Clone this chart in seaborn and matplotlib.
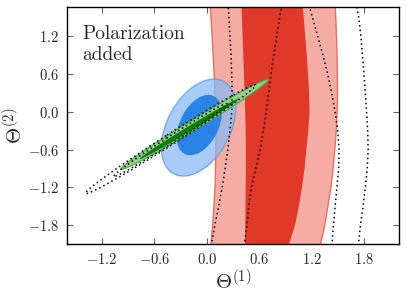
import numpy as np
import matplotlib
matplotlib.use("Agg")
import matplotlib.pyplot as plt
from matplotlib.patches import Ellipse
import seaborn as sns

# ---------------- data ----------------
band_y      = [-2.2, -1.8, -1.5, -1.2, -0.9, -0.6, -0.3, 0.0, 0.3, 0.6, 0.9, 1.2, 1.5, 1.8]
light_left  = [0.035, 0.060, 0.075, 0.088, 0.094, 0.097, 0.096, 0.093, 0.087, 0.078, 0.067, 0.055, 0.042, 0.025]
light_right = [1.28, 1.345, 1.38, 1.415, 1.44, 1.46, 1.477, 1.487, 1.492, 1.49, 1.486, 1.48, 1.472, 1.46]
dark_left   = [0.435, 0.44, 0.443, 0.445, 0.446, 0.447, 0.445, 0.44, 0.433, 0.425, 0.418, 0.41, 0.402, 0.395]
dark_right  = [0.92, 1.01, 1.055, 1.09, 1.12, 1.14, 1.162, 1.177, 1.172, 1.16, 1.145, 1.127, 1.11, 1.09]

# dotted (no polarization) contours for the band
dot_left_outer  = [0.04, 0.092, 0.135, 0.176, 0.21, 0.24, 0.265, 0.285, 0.29, 0.285, 0.277, 0.265, 0.253, 0.24]
dot_left_inner  = [0.42, 0.46, 0.48, 0.51, 0.56, 0.61, 0.648, 0.68, 0.708, 0.735, 0.767, 0.80, 0.835, 0.87]
dot_right_inner = [1.43, 1.45, 1.47, 1.49, 1.51, 1.515, 1.50, 1.47, 1.43, 1.385, 1.33, 1.27, 1.21, 1.15]
dot_right_outer = [1.73, 1.76, 1.79, 1.815, 1.838, 1.848, 1.843, 1.83, 1.815, 1.80, 1.783, 1.765, 1.74, 1.70]

# ellipses: centre x, centre y, half extent x, half extent y, correlation
blue_outer  = (-0.094, -0.25, 0.427, 0.77, 0.41)
blue_inner  = (-0.086, -0.21, 0.258, 0.48, 0.40)
green_outer = (-0.14, -0.20, 0.845, 0.715, 0.9915)
green_inner = (-0.20, -0.27, 0.57, 0.48, 0.995)
dotted_outer = (-0.415, -0.435, 0.975, 0.865, 0.993)
dotted_inner = (-0.42, -0.45, 0.65, 0.58, 0.993)

x_ticks = [-1.2, -0.6, 0.0, 0.6, 1.2, 1.8]
y_ticks = [-1.8, -1.2, -0.6, 0.0, 0.6, 1.2]
x_lim = (-1.6, 2.2)
y_lim = (-2.1, 1.66)
note = "Polarization\nadded"

# ---------------- styling ----------------
sns.set_style("ticks")
plt.rcParams["font.family"] = ["serif"]
plt.rcParams["font.serif"] = ["cmr10", "DejaVu Serif"]
plt.rcParams["mathtext.fontset"] = "cm"
plt.rcParams["axes.formatter.use_mathtext"] = True
plt.rcParams["axes.unicode_minus"] = True


def make_ellipse(p, **kw):
    cx, cy, hx, hy, rho = p
    cov = np.array([[hx * hx, rho * hx * hy], [rho * hx * hy, hy * hy]])
    vals, vecs = np.linalg.eigh(cov)
    order = vals.argsort()[::-1]
    vals, vecs = vals[order], vecs[:, order]
    ang = np.degrees(np.arctan2(vecs[1, 0], vecs[0, 0]))
    return Ellipse((cx, cy), 2 * np.sqrt(vals[0]), 2 * np.sqrt(vals[1]),
                   angle=ang, **kw)


fig, ax = plt.subplots(figsize=(4.07, 2.98), dpi=100)
fig.subplots_adjust(left=0.165, right=0.980, bottom=0.181, top=0.9755)

# red band
ax.fill_betweenx(band_y, light_left, light_right, facecolor="#f4aca4",
                 edgecolor="#e8705f", linewidth=1.0, zorder=1)
ax.fill_betweenx(band_y, dark_left, dark_right, facecolor="#e0392a",
                 edgecolor="none", zorder=2)

# blue ellipses
ax.add_patch(make_ellipse(blue_outer, facecolor="#8bbcf2", edgecolor="#5a9be6",
                          linewidth=1.0, alpha=0.75, zorder=3))
ax.add_patch(make_ellipse(blue_inner, facecolor="#2a84e6", edgecolor="none",
                          zorder=4))

# green ellipses
ax.add_patch(make_ellipse(green_outer, facecolor="#93d08c", edgecolor="#4aa84a",
                          linewidth=0.8, zorder=5))
ax.add_patch(make_ellipse(green_inner, facecolor="#0a7d0a", edgecolor="none",
                          zorder=6))

# dotted ellipses
for p in (dotted_outer, dotted_inner):
    ax.add_patch(make_ellipse(p, fill=False, edgecolor="black",
                              linestyle=(0, (1, 2)), linewidth=1.1, zorder=7))

# dotted band curves
for xs in (dot_left_outer, dot_left_inner, dot_right_inner, dot_right_outer):
    sns.lineplot(x=xs, y=band_y, sort=False, estimator=None, orient="y",
                 color="black", linestyle=(0, (1, 2)), linewidth=1.1,
                 ax=ax, zorder=8)

ax.set_xlim(*x_lim)
ax.set_ylim(*y_lim)
ax.set_xticks(x_ticks)
ax.set_yticks(y_ticks)
ax.tick_params(direction="in", top=True, right=True, length=4, width=0.8,
               color="#666666", labelsize=10.5, pad=6)
for s in ax.spines.values():
    s.set_linewidth(1.0)
    s.set_color("black")

ax.set_xlabel(r"$\Theta^{(1)}$", fontsize=15, labelpad=1)
ax.set_ylabel(r"$\Theta^{(2)}$", fontsize=15, labelpad=1)

ax.text(0.045, 0.925, note, transform=ax.transAxes, fontsize=14,
        va="top", ha="left", family=["cmr10", "DejaVu Serif"],
        linespacing=1.2, zorder=10)

fig.savefig("out.png", dpi=100)
